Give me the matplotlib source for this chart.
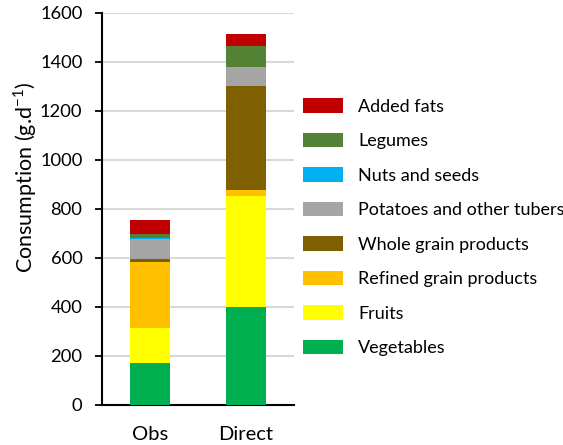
import numpy as np
import matplotlib
matplotlib.use('Agg')
import matplotlib.pyplot as plt

plt.rcParams['font.family'] = ['Lato', 'DejaVu Sans']

# data (g per day)
groups = ['Obs', 'Direct']
categories = ['Vegetables', 'Fruits', 'Refined grain products', 'Whole grain products',
              'Potatoes and other tubers', 'Nuts and seeds', 'Legumes', 'Added fats']
vegetables = [170, 400]
fruits = [144, 453]
refined_grain = [270, 26]
whole_grain = [11, 424]
potatoes = [83, 75]
nuts = [2, 1]
legumes = [16, 87]
added_fats = [57, 46]
colors = ['#00B050', '#FFFF00', '#FFC000', '#7F6000', '#A5A5A5', '#00B0F0', '#548235', '#C00000']

series = [vegetables, fruits, refined_grain, whole_grain, potatoes, nuts, legumes, added_fats]

fig = plt.figure(figsize=(5.63, 4.45), dpi=100)
ax = fig.add_axes([0.181, 0.09, 0.341, 0.881])

x = np.arange(len(groups))
bottom = np.zeros(len(groups))
handles = []
for vals, lab, col in zip(series, categories, colors):
    b = ax.bar(x, vals, 0.41, bottom=bottom, color=col, label=lab, zorder=3)
    handles.append(b)
    bottom += np.array(vals)

ax.set_xlim(-0.5, 1.5)
ax.set_ylim(0, 1600)
ax.set_yticks(range(0, 1601, 200))
ax.set_xticks(x)
ax.set_xticklabels(groups, fontsize=14.5)
ax.tick_params(axis='x', length=0, pad=15)
ax.tick_params(axis='y', direction='out', length=5, width=1.3, labelsize=13.2, pad=9)
ax.yaxis.grid(True, color='#D9D9D9', lw=1.5, zorder=0)
for s in ['top', 'right']:
    ax.spines[s].set_visible(False)
for s in ['left', 'bottom']:
    ax.spines[s].set_linewidth(1.5)
# y label sits a bit above the axis centre in the original
fig.text(25 / 563, 1 - 177 / 445, 'Consumption (g.d$^{\\mathregular{-1}}$)', rotation=90,
         ha='center', va='center', fontsize=15.5)

fig.legend(handles[::-1], categories[::-1], loc='upper left', bbox_to_anchor=(0.538, 0.779),
           frameon=False, fontsize=13, handlelength=2.2, handleheight=0.85,
           labelspacing=1.0, handletextpad=0.85, borderpad=0, borderaxespad=0)

fig.savefig('out.png', dpi=100)
